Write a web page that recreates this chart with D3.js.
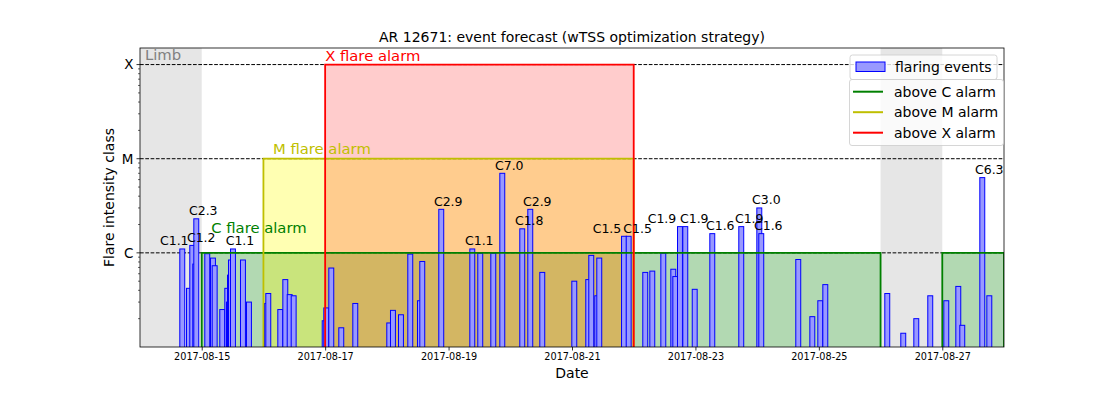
<!DOCTYPE html>
<html><head><meta charset="utf-8">
<script src="https://cdn.jsdelivr.net/npm/d3@7"></script>
<style>body{margin:0;background:#fff}svg{display:block;font-family:"DejaVu Sans",sans-serif}</style>
</head><body><svg id="c" width="1116" height="396"></svg>
<script>
// ---- data ----
const eventTimes = [
"2017-08-14T15:17","2017-08-14T17:53","2017-08-14T19:10","2017-08-14T20:20","2017-08-14T20:44",
"2017-08-15T01:00","2017-08-15T03:13","2017-08-15T03:53","2017-08-15T06:50","2017-08-15T08:47",
"2017-08-15T09:27","2017-08-15T09:50","2017-08-15T10:13","2017-08-15T11:00","2017-08-15T14:53",
"2017-08-15T17:13","2017-08-16T00:13","2017-08-16T00:44","2017-08-16T05:24","2017-08-16T07:21",
"2017-08-16T09:03","2017-08-16T10:36","2017-08-16T22:40","2017-08-16T23:17","2017-08-17T01:14",
"2017-08-17T05:07","2017-08-17T10:34","2017-08-17T23:47","2017-08-18T01:13","2017-08-18T04:20",
"2017-08-18T07:57","2017-08-18T11:43","2017-08-18T12:37","2017-08-18T20:00","2017-08-19T08:04",
"2017-08-19T11:10","2017-08-19T16:14","2017-08-19T19:44","2017-08-20T03:30","2017-08-20T06:37",
"2017-08-20T11:17","2017-08-20T23:44","2017-08-21T05:10","2017-08-21T06:20","2017-08-21T08:40",
"2017-08-21T09:27","2017-08-21T19:04","2017-08-21T20:53","2017-08-22T03:20","2017-08-22T06:04",
"2017-08-22T10:21","2017-08-22T14:14","2017-08-22T15:01","2017-08-22T16:50","2017-08-22T18:54",
"2017-08-22T22:34","2017-08-23T05:24","2017-08-23T16:40","2017-08-23T23:41","2017-08-24T00:27",
"2017-08-24T14:50","2017-08-24T20:18","2017-08-24T23:24","2017-08-25T01:21","2017-08-26T01:27",
"2017-08-26T07:40","2017-08-26T12:44","2017-08-26T18:10","2017-08-27T00:24","2017-08-27T05:04",
"2017-08-27T06:37","2017-08-27T14:24","2017-08-27T17:08"];
// peak flux in units of 1e-6 W/m^2 (C-class multiples)
const eventPeaks = [
1.1,0.42,1.2,0.76,2.3,
0.98,0.88,0.73,0.25,0.42,
0.30,0.58,0.84,1.1,0.84,
0.30,0.29,0.37,0.25,0.52,
0.36,0.35,0.19,0.26,0.69,
0.16,0.29,0.18,0.245,0.22,
0.97,0.31,0.81,2.9,1.1,
0.99,0.99,7.0,1.8,2.9,
0.62,0.50,0.52,0.94,0.35,
0.88,1.5,1.5,0.62,0.64,
0.99,0.67,0.56,1.9,1.9,
0.41,1.6,1.9,3.0,1.6,
0.85,0.21,0.31,0.46,0.37,
0.14,0.20,0.35,0.31,0.44,
0.17,6.3,0.35];
const classNames = ["C","M","X"];
const classFlux = [1e-6,1e-5,1e-4];
const limbStarts = ["2017-08-14T00:00","2017-08-26T00:00"];
const limbEnds   = ["2017-08-15T00:00","2017-08-27T00:00"];
const alarmClass  = ["C","C","M","X"];
const alarmStarts = ["2017-08-15T00:00","2017-08-27T00:00","2017-08-16T00:00","2017-08-17T00:00"];
const alarmEnds   = ["2017-08-26T00:00","2017-08-28T00:00","2017-08-22T00:00","2017-08-22T00:00"];
const dateTicks = ["2017-08-15","2017-08-17","2017-08-19","2017-08-21","2017-08-23","2017-08-25","2017-08-27"];
const legendLabels = ["above C alarm","above M alarm","above X alarm"];

// ---- drawing ----
const parseT = d3.utcParse("%Y-%m-%dT%H:%M");
const parseD = d3.utcParse("%Y-%m-%d");
const L=140,R=1004,T=48,B=347;
const svg = d3.select("#c");
const x = d3.scaleUtc().domain([parseD("2017-08-14"),parseD("2017-08-28")]).range([L,R]);
const y = d3.scaleLog().domain([1e-7,1.5e-4]).range([B,T]);
const fluxOf = c => classFlux[classNames.indexOf(c)];
const colLine = {C:"#008000",M:"#bfbf00",X:"#ff0000"};
const colFill = {C:"#008000",M:"#ffff00",X:"#ff0000"};
const fillOp = {C:0.3,M:0.3,X:0.2};

svg.append("defs").append("clipPath").attr("id","pc").append("rect")
  .attr("x",L).attr("y",T).attr("width",R-L).attr("height",B-T);
const g = svg.append("g").attr("clip-path","url(#pc)");

// limb
limbStarts.forEach((s,i)=>{
  g.append("rect").attr("x",x(parseT(s))).attr("y",T)
   .attr("width",x(parseT(limbEnds[i]))-x(parseT(s))).attr("height",B-T)
   .attr("fill","#808080").attr("fill-opacity",0.2);
});
// dashed class lines
classFlux.forEach(f=>{
  g.append("line").attr("x1",L).attr("x2",R).attr("y1",y(f)).attr("y2",y(f))
   .attr("stroke","#000").attr("stroke-width",1).attr("stroke-dasharray","3.7,1.6");
});
// alarm fills
const alarms = alarmClass.map((c,i)=>({c, s:parseT(alarmStarts[i]), e:parseT(alarmEnds[i])}));
alarms.forEach(a=>{
  g.append("rect").attr("x",x(a.s)).attr("y",y(fluxOf(a.c)))
   .attr("width",x(a.e)-x(a.s)).attr("height",B-y(fluxOf(a.c)))
   .attr("fill",colFill[a.c]).attr("fill-opacity",fillOp[a.c]);
});
// bars
const barDays = 0.08;
const events = eventTimes.map((t,i)=>({t:parseT(t), v:eventPeaks[i]*1e-6, p:eventPeaks[i]}));
g.selectAll("rect.bar").data(events).join("rect").attr("class","bar")
  .attr("x",d=>x(d.t)+0.5)
  .attr("width",d=>x(new Date(+d.t+barDays*864e5))-x(d.t))
  .attr("y",d=>y(d.v)).attr("height",d=>B+5-y(d.v))
  .attr("fill","#9999ff").attr("stroke","#0000ff").attr("stroke-width",1);
// alarm outlines
alarms.forEach(a=>{
  const yy=y(fluxOf(a.c)), x0=x(a.s), x1=x(a.e);
  g.append("path").attr("d",`M${x0},${B+3}V${yy}H${x1}V${B+3}`)
   .attr("fill","none").attr("stroke",colLine[a.c]).attr("stroke-width",1.8);
});

// bar labels
const nudge = {0:-8,2:9,46:-17,47:9,53:-18,54:9,56:8,57:8};
events.forEach((d,i)=>{
  if(d.p>=1.05){
    const cx = x(d.t)+0.5+(x(new Date(+d.t+barDays*864e5))-x(d.t))/2;
    svg.append("text").attr("x",cx+(nudge[i]!==undefined?nudge[i]:7)).attr("y",y(d.v)-3.5)
      .attr("text-anchor","middle").attr("font-size","12.5px").attr("fill","#000")
      .text("C"+d.p.toFixed(1));
  }
});

// alarm texts
svg.append("text").attr("x",145).attr("y",60).attr("font-size","14.8px").attr("fill","#808080").text("Limb");
svg.append("text").attr("x",x(parseT(alarmStarts[0]))+9.5).attr("y",y(1e-6)-20).attr("font-size","14.8px").attr("fill",colLine.C).text("C flare alarm");
svg.append("text").attr("x",x(parseT(alarmStarts[2]))+9.5).attr("y",y(1e-5)-5).attr("font-size","14.8px").attr("fill",colLine.M).text("M flare alarm");
svg.append("text").attr("x",x(parseT(alarmStarts[3]))).attr("y",y(1e-4)-4).attr("font-size","14.8px").attr("fill",colLine.X).text("X flare alarm");

// frame
svg.append("rect").attr("x",L).attr("y",T).attr("width",R-L).attr("height",B-T)
  .attr("fill","none").attr("stroke","#000").attr("stroke-width",0.8);

// x axis
const xa = svg.append("g").attr("transform",`translate(0,${B})`)
  .call(d3.axisBottom(x).tickValues(dateTicks.map(parseD)).tickFormat(d3.utcFormat("%Y-%m-%d")).tickSize(3.5).tickPadding(3));
xa.select(".domain").remove();
xa.selectAll("text").attr("font-size","9.7px").attr("font-family","DejaVu Sans").attr("fill","#000");
xa.selectAll("line").attr("stroke-width",0.8);

// y axis minor ticks
const minor=[];
for(let k=-7;k<=-4;k++) for(let m=2;m<=9;m++){const v=m*Math.pow(10,k); if(v<=1.5e-4) minor.push(v);}
minor.forEach(v=>svg.append("line").attr("x1",L-2).attr("x2",L).attr("y1",y(v)).attr("y2",y(v)).attr("stroke","#000").attr("stroke-width",0.6));
classFlux.forEach((f,i)=>{
  svg.append("line").attr("x1",L-3.5).attr("x2",L).attr("y1",y(f)).attr("y2",y(f)).attr("stroke","#000").attr("stroke-width",0.8);
  svg.append("text").attr("x",L-6.5).attr("y",y(f)).attr("dy","0.36em").attr("text-anchor","end")
    .attr("font-size","13.5px").attr("fill","#000").text(classNames[i]);
});

// labels
svg.append("text").attr("x",(L+R)/2).attr("y",42).attr("text-anchor","middle").attr("font-size","14px").text("AR 12671: event forecast (wTSS optimization strategy)");
svg.append("text").attr("x",(L+R)/2).attr("y",378).attr("text-anchor","middle").attr("font-size","14px").text("Date");
svg.append("text").attr("transform",`translate(113.5,${(T+B)/2}) rotate(-90)`).attr("text-anchor","middle").attr("font-size","14px").text("Flare intensity class");

// legend 1
const l1 = svg.append("g");
l1.append("rect").attr("x",850).attr("y",55).attr("width",147).attr("height",24.5).attr("rx",2.5)
  .attr("fill","#fff").attr("fill-opacity",0.8).attr("stroke","#cccccc").attr("stroke-width",0.8);
l1.append("rect").attr("x",856).attr("y",62).attr("width",29).attr("height",9.5).attr("fill","#9999ff").attr("stroke","#0000ff").attr("stroke-width",1);
l1.append("text").attr("x",895).attr("y",67).attr("dy","0.36em").attr("font-size","14px").text("flaring events");
// legend 2
const l2 = svg.append("g");
l2.append("rect").attr("x",849.5).attr("y",79.5).attr("width",154).attr("height",66).attr("rx",2.5)
  .attr("fill","#fff").attr("fill-opacity",0.8).attr("stroke","#cccccc").attr("stroke-width",0.8);
legendLabels.forEach((t,i)=>{
  const yy = 91.7+i*20.5;
  l2.append("line").attr("x1",853).attr("x2",883).attr("y1",yy).attr("y2",yy).attr("stroke",colLine[classNames[i]]).attr("stroke-width",2);
  l2.append("text").attr("x",894).attr("y",yy).attr("dy","0.36em").attr("font-size","14px").text(t);
});
</script></body></html>
